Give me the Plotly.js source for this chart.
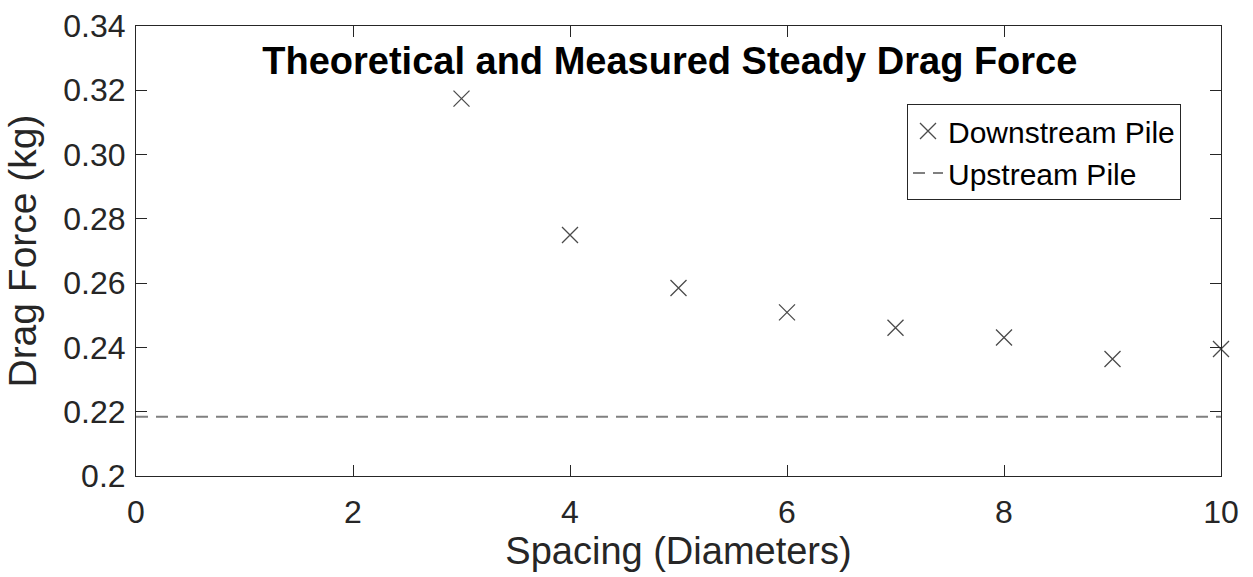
<!DOCTYPE html>
<html>
<head>
<meta charset="utf-8">
<script src="https://cdn.plot.ly/plotly-3.0.1.min.js"></script>
<style>
  html, body { margin: 0; padding: 0; background: #fff; }
  #chart { width: 1253px; height: 577px; }
</style>
</head>
<body>
<div id="chart"></div>
<script>
// Data
const spacing = [3, 4, 5, 6, 7, 8, 9, 10];
const downstreamForce = [0.3174, 0.275, 0.2585, 0.2509, 0.2461, 0.2431, 0.2364, 0.2395];
const upstreamX = [0, 10];
const upstreamForce = [0.2184, 0.2184];
const yTickVals = [0.2, 0.22, 0.24, 0.26, 0.28, 0.30, 0.32, 0.34];
const yTickText = ["0.2", "0.22", "0.24", "0.26", "0.28", "0.30", "0.32", "0.34"];
const xTickVals = [0, 2, 4, 6, 8, 10];

const font = "Liberation Sans, Arial, sans-serif";
const axisColor = "#262626";

const traces = [
  {
    x: spacing, y: downstreamForce,
    type: "scatter", mode: "markers", name: "Downstream Pile",
    marker: { symbol: "x-thin", size: 16, line: { color: "#4a4a4a", width: 1.3 }, color: "#4a4a4a" },
    cliponaxis: false
  },
  {
    x: upstreamX, y: upstreamForce,
    type: "scatter", mode: "lines", name: "Upstream Pile",
    line: { color: "#808080", width: 2, dash: "12px,8px" }
  }
];

const layout = {
  width: 1253, height: 577,
  paper_bgcolor: "#fff", plot_bgcolor: "#fff",
  margin: { l: 136, r: 32, t: 26, b: 101, pad: 0 },
  font: { family: font, color: axisColor, size: 32 },
  title: {
    text: "<b>Theoretical and Measured Steady Drag Force</b>",
    font: { family: font, size: 38, color: "#000" },
    x: 0.492, xanchor: "center", xref: "paper",
    y: 1 - 61 / 577, yanchor: "middle", yref: "container"
  },
  xaxis: {
    range: [0, 10], tickvals: xTickVals, ticks: "inside", ticklen: 11, tickwidth: 1,
    tickcolor: axisColor, showline: true, linecolor: axisColor, linewidth: 1, mirror: "ticks",
    showgrid: false, zeroline: false, ticklabelstandoff: 8,
    tickfont: { family: font, size: 32, color: axisColor },
    title: { text: "Spacing (Diameters)", font: { family: font, size: 38, color: axisColor }, standoff: 0 }
  },
  yaxis: {
    range: [0.2, 0.34], tickvals: yTickVals, ticktext: yTickText, ticks: "inside", ticklen: 11, tickwidth: 1,
    tickcolor: axisColor, showline: true, linecolor: axisColor, linewidth: 1, mirror: "ticks",
    showgrid: false, zeroline: false, ticklabelstandoff: 3,
    tickfont: { family: font, size: 32, color: axisColor },
    title: { text: "Drag Force (kg)", font: { family: font, size: 39, color: axisColor }, standoff: 14 }
  },
  showlegend: true,
  legend: {
    x: (907 - 136) / 1085, y: (476 - 104) / 450, xanchor: "left", yanchor: "top",
    bordercolor: "#262626", borderwidth: 1, bgcolor: "#fff",
    font: { family: font, size: 30, color: "#000" },
    itemwidth: 30, tracegroupgap: 0
  }
};

Plotly.newPlot("chart", traces, layout, { displayModeBar: false, staticPlot: true });
</script>
</body>
</html>
